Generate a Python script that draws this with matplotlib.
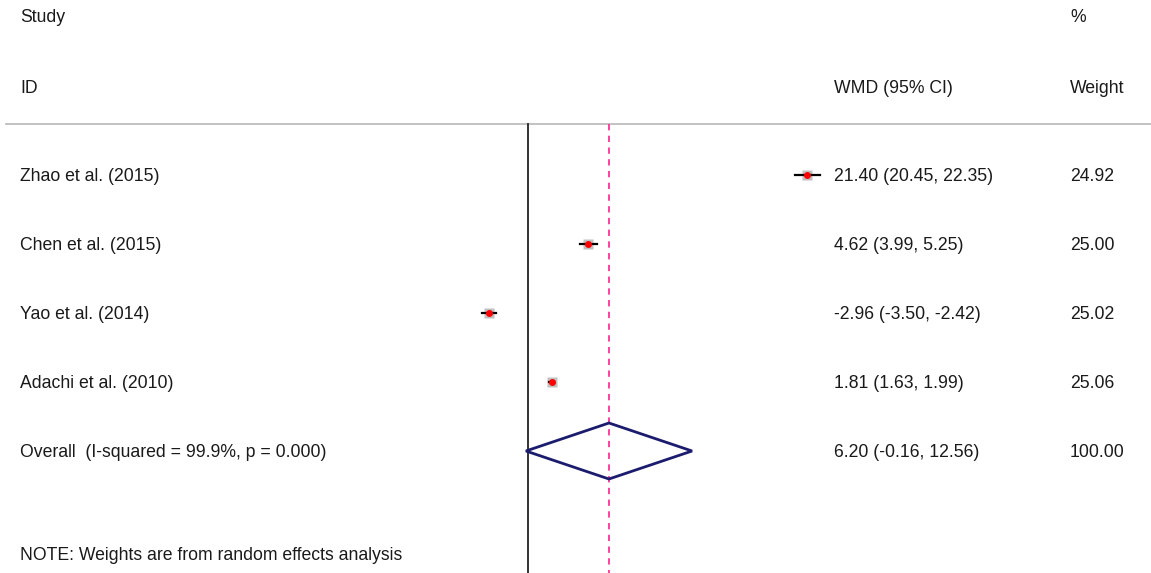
import matplotlib.pyplot as plt
from matplotlib.patches import Polygon
import matplotlib.transforms as mtransforms

# forest plot: WMD with 95% CI, random effects

studies = ["Zhao et al. (2015)", "Chen et al. (2015)", "Yao et al. (2014)", "Adachi et al. (2010)"]
wmd = [21.40, 4.62, -2.96, 1.81]
ci_low = [20.45, 3.99, -3.50, 1.63]
ci_high = [22.35, 5.25, -2.42, 1.99]
weights = [24.92, 25.00, 25.02, 25.06]

overall_label = "Overall  (I-squared = 99.9%, p = 0.000)"
overall_wmd = 6.20
overall_low = -0.16
overall_high = 12.56
overall_weight = 100.00

note = "NOTE: Weights are from random effects analysis"

W, H = 1151, 573
px_per_unit = 13.06
zero_px = 528
row0_px = 175
row_step = 69

plt.rcParams["font.family"] = ["Liberation Sans", "DejaVu Sans"]

fig = plt.figure(figsize=(W / 100, H / 100), dpi=100)
ax = fig.add_axes((0, 0, 1, 1))
ax.set_xlim(-zero_px / px_per_unit, (W - zero_px) / px_per_unit)
ax.set_ylim((H - row0_px) / row_step, -row0_px / row_step)
ax.axis("off")


def prow(py):
    # pixel row -> data row
    return (py - row0_px) / row_step


trans = mtransforms.blended_transform_factory(ax.transAxes, ax.transData)
fs = 12.7
tc = "#1a1a1a"
col_study = 20 / W
col_wmd = 834 / W
col_wt = 1070 / W


def put(x, y, s):
    ax.text(x, y, s, transform=trans, fontsize=fs, va="center", color=tc)


# headers
put(col_study, prow(18), "Study")
put(col_study, prow(88), "ID")
put(col_wmd, prow(88), "WMD (95% CI)")
put(col_wt, prow(18), "%")
put(col_wt, prow(88), "Weight")

line_y = prow(124)
ax.plot([6 / W, 1], [line_y, line_y], transform=trans, color="#b8b8b8", lw=1.2)

bottom = prow(H)
ax.plot([0, 0], [line_y, bottom], color="#222222", lw=1.3)
ax.plot([overall_wmd, overall_wmd], [line_y, bottom], color="#ff3399",
        lw=1.3, ls=(0, (3.5, 3)))

for i, name in enumerate(studies):
    ax.plot(wmd[i], i, marker="s", ms=7, color="#c0c0c0", mec="none", zorder=3)
    ax.plot([ci_low[i], ci_high[i]], [i, i], color="black", lw=1.6, zorder=4)
    ax.plot(wmd[i], i, marker="o", ms=5, color="red", mec="none", zorder=5)
    y = i + 1 / row_step
    put(col_study, y, name)
    put(col_wmd, y, f"{wmd[i]:.2f} ({ci_low[i]:.2f}, {ci_high[i]:.2f})")
    put(col_wt, y, f"{weights[i]:.2f}")

k = len(studies)
half_h = 28 / row_step
diamond = Polygon([(overall_low, k), (overall_wmd, k - half_h),
                   (overall_high, k), (overall_wmd, k + half_h)],
                  closed=True, fill=False, edgecolor="#1c1c6e", lw=2, zorder=6)
ax.add_patch(diamond)
yk = k + 1 / row_step
put(col_study, yk, overall_label)
put(col_wmd, yk, f"{overall_wmd:.2f} ({overall_low:.2f}, {overall_high:.2f})")
put(col_wt, yk, f"{overall_weight:.2f}")

put(col_study, prow(556), note)

fig.savefig("out.png", dpi=100)
